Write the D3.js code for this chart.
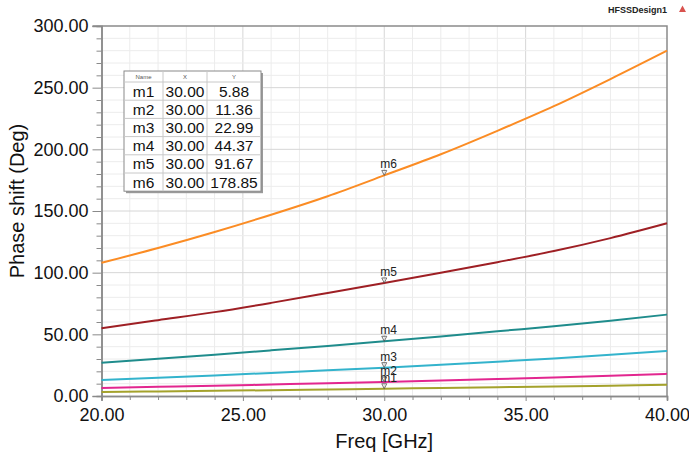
<!DOCTYPE html>
<html>
<head>
<meta charset="utf-8">
<script src="https://cdn.jsdelivr.net/npm/d3@7"></script>
<style>
  html, body { margin: 0; padding: 0; background: #fff; }
  svg { display: block; font-family: "Liberation Sans", Arial, sans-serif; }
</style>
</head>
<body>
<svg id="chart" width="689" height="461"></svg>
<script>
// Sweep frequencies (GHz)
const freq = [20, 22, 24, 26, 28, 30, 32, 34, 36, 38, 40];

// Phase shift traces (deg), one per marker
const seriesNames = ["m1", "m2", "m3", "m4", "m5", "m6"];
const phaseM1 = [3.2, 3.7, 4.2, 4.7, 5.3, 5.88, 6.5, 7.1, 7.7, 8.4, 9.1];
const phaseM2 = [6.5, 7.4, 8.3, 9.3, 10.3, 11.36, 12.5, 13.7, 15.0, 16.4, 18.0];
const phaseM3 = [13.0, 14.8, 16.7, 18.7, 20.8, 22.99, 25.3, 27.8, 30.5, 33.4, 36.5];
const phaseM4 = [27.0, 30.2, 33.5, 37.0, 40.6, 44.37, 48.3, 52.5, 56.5, 61.0, 66.0];
const phaseM5 = [55.0, 61.5, 68.0, 75.5, 83.5, 91.67, 100.0, 108.5, 117.5, 128.0, 140.0];
const phaseM6 = [108.0, 120.0, 133.0, 147.0, 162.0, 178.85, 196.0, 215.0, 235.0, 257.0, 280.0];
const seriesColors = ["#a4a22c", "#e2268f", "#33b3cc", "#1f8c8c", "#9e1f24", "#fb8c24"];

// Marker readout table
const markerX = [30.00, 30.00, 30.00, 30.00, 30.00, 30.00];
const markerY = [5.88, 11.36, 22.99, 44.37, 91.67, 178.85];

// Axis ticks
const xTicks = [20, 25, 30, 35, 40];
const yTicks = [0, 50, 100, 150, 200, 250, 300];

const svg = d3.select("#chart");
const m = { left: 101.5, right: 667, top: 26, bottom: 396 };

const x = d3.scaleLinear().domain([20, 40]).range([m.left, m.right]);
const y = d3.scaleLinear().domain([0, 300]).range([m.bottom, m.top]);

// Grid: fine every 1 GHz / 10 deg, stronger on the labelled ticks
const g = svg.append("g");
d3.range(21, 40, 1).forEach(v => {
  g.append("line").attr("x1", x(v)).attr("x2", x(v)).attr("y1", m.top).attr("y2", m.bottom)
    .attr("stroke", xTicks.includes(v) ? "#d6d6d6" : "#ececec").attr("stroke-width", 1);
});
d3.range(10, 300, 10).forEach(v => {
  g.append("line").attr("x1", m.left).attr("x2", m.right).attr("y1", y(v)).attr("y2", y(v))
    .attr("stroke", v % 50 === 0 ? "#d6d6d6" : "#ececec").attr("stroke-width", 1);
});

// Frame (top and right)
svg.append("path")
  .attr("d", `M${m.left - 9},${m.top}H${m.right}V${m.bottom}`)
  .attr("fill", "none").attr("stroke", "#8a8a8a").attr("stroke-width", 1.5);

// Axes
const fmt = d3.format(".2f");
const xAxis = svg.append("g").attr("transform", `translate(0,${m.bottom})`)
  .call(d3.axisBottom(x).tickValues(xTicks).tickFormat(fmt).tickSize(5).tickPadding(4));
const xMinor = svg.append("g").attr("transform", `translate(0,${m.bottom})`)
  .call(d3.axisBottom(x).tickValues(d3.range(20, 41, 1).filter(v => !xTicks.includes(v))).tickFormat("").tickSize(4));
const yAxis = svg.append("g").attr("transform", `translate(${m.left},0)`)
  .call(d3.axisLeft(y).tickValues(yTicks).tickFormat(fmt).tickSize(9).tickPadding(4));
const yMinor = svg.append("g").attr("transform", `translate(${m.left},0)`)
  .call(d3.axisLeft(y).tickValues(d3.range(10, 300, 10).filter(v => v % 50 !== 0)).tickFormat("").tickSize(5));

[xAxis, xMinor, yAxis, yMinor].forEach(a => {
  a.selectAll(".domain").attr("stroke", "#8a8a8a").attr("stroke-width", 1.5);
  a.selectAll(".tick line").attr("stroke", "#8a8a8a").attr("stroke-width", 1);
  a.selectAll("text").attr("fill", "#111").attr("font-size", 18)
    .attr("font-family", "'Liberation Sans', Arial, sans-serif");
});
xAxis.selectAll("text").attr("dy", "0.9em");

// Axis titles
svg.append("text").attr("x", x(30)).attr("y", 448).attr("text-anchor", "middle")
  .attr("font-size", 20).attr("fill", "#111").text("Freq [GHz]");
svg.append("text").attr("transform", `translate(24,${y(150) - 10}) rotate(-90)`)
  .attr("text-anchor", "middle").attr("font-size", 20).attr("fill", "#111").text("Phase shift (Deg)");

// Design name
svg.append("text").attr("x", 667).attr("y", 13).attr("text-anchor", "end")
  .attr("font-size", 9).attr("font-weight", "bold").attr("fill", "#222").text("HFSSDesign1");
svg.append("path").attr("d", "M679,12 L682.5,5.5 L686,12 Z").attr("fill", "#d9534f");

// Traces
const allPhase = [phaseM1, phaseM2, phaseM3, phaseM4, phaseM5, phaseM6];
const line = d3.line().x(d => x(d[0])).y(d => y(d[1])).curve(d3.curveMonotoneX);
allPhase.forEach((vals, i) => {
  svg.append("path")
    .datum(freq.map((f, k) => [f, vals[k]]))
    .attr("d", line).attr("fill", "none")
    .attr("stroke", seriesColors[i]).attr("stroke-width", 2);
});

// Markers on the traces
seriesNames.forEach((name, i) => {
  const px = x(markerX[i]), py = y(markerY[i]);
  svg.append("path")
    .attr("d", `M${px - 2.5},${py - 5} L${px + 2.5},${py - 5} L${px},${py} Z`)
    .attr("fill", "none").attr("stroke", "#555").attr("stroke-width", 0.8);
  svg.append("text").attr("x", px - 4).attr("y", py - 7)
    .attr("font-size", 12).attr("fill", "#222").text(name);
});

// Marker readout table
const tbl = svg.append("g");
const tx = [124, 163, 207, 261];
const ty0 = 71, hdrH = 11, rowH = 18.2;
const tBottom = ty0 + hdrH + rowH * seriesNames.length;
tbl.append("rect").attr("x", tx[0] + 2).attr("y", ty0 + 2).attr("width", tx[3] - tx[0]).attr("height", tBottom - ty0)
  .attr("fill", "#9a9a9a");
tbl.append("rect").attr("x", tx[0]).attr("y", ty0).attr("width", tx[3] - tx[0]).attr("height", tBottom - ty0)
  .attr("fill", "#fff").attr("stroke", "#8a8a8a").attr("stroke-width", 1);
[tx[1], tx[2]].forEach(cx => tbl.append("line").attr("x1", cx).attr("x2", cx).attr("y1", ty0).attr("y2", tBottom)
  .attr("stroke", "#c8c8c8"));
d3.range(seriesNames.length).forEach(r => {
  const ly = ty0 + hdrH + rowH * r;
  tbl.append("line").attr("x1", tx[0]).attr("x2", tx[3]).attr("y1", ly).attr("y2", ly).attr("stroke", "#c8c8c8");
});
["Name", "X", "Y"].forEach((h, c) => {
  tbl.append("text").attr("x", (tx[c] + tx[c + 1]) / 2).attr("y", ty0 + 8).attr("text-anchor", "middle")
    .attr("font-size", 6).attr("fill", "#555").text(h);
});
seriesNames.forEach((name, r) => {
  const by = ty0 + hdrH + rowH * r + 14.5;
  const cells = [name, fmt(markerX[r]), fmt(markerY[r])];
  cells.forEach((t, c) => {
    tbl.append("text").attr("x", (tx[c] + tx[c + 1]) / 2).attr("y", by).attr("text-anchor", "middle")
      .attr("font-size", 15.5).attr("fill", "#111").text(t);
  });
});
</script>
</body>
</html>
